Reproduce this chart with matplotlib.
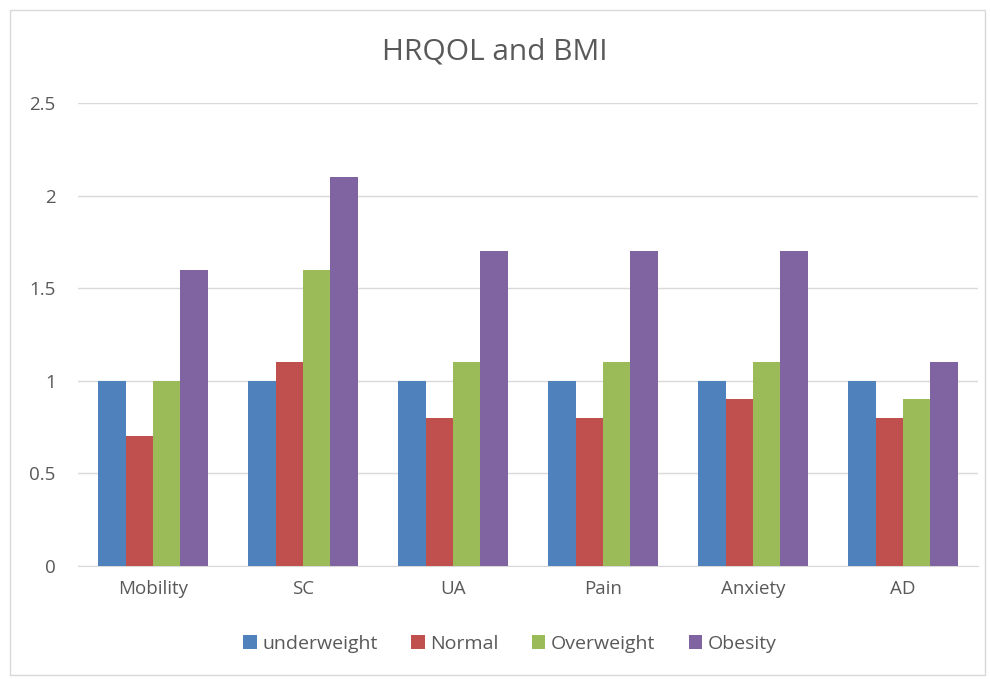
import matplotlib
matplotlib.use("Agg")
import matplotlib.pyplot as plt
import numpy as np
from matplotlib.patches import Rectangle

categories = ["Mobility", "SC", "UA", "Pain", "Anxiety", "AD"]
series_names = ["underweight", "Normal", "Overweight", "Obesity"]
underweight = [1.0, 1.0, 1.0, 1.0, 1.0, 1.0]
normal = [0.7, 1.1, 0.8, 0.8, 0.9, 0.8]
overweight = [1.0, 1.6, 1.1, 1.1, 1.1, 0.9]
obesity = [1.6, 2.1, 1.7, 1.7, 1.7, 1.1]
y_ticks = [0, 0.5, 1, 1.5, 2, 2.5]
y_tick_labels = ["0", "0.5", "1", "1.5", "2", "2.5"]

colors = ["#4F81BD", "#C0504D", "#9BBB59", "#8064A2"]
text_color = "#595959"
grid_color = "#D9D9D9"

plt.rcParams["font.family"] = ["Open Sans", "DejaVu Sans"]

fig = plt.figure(figsize=(9.9, 6.79), dpi=100)
fig.patches.append(Rectangle((10 / 990, 4 / 679), 975 / 990, 665 / 679,
                             transform=fig.transFigure, fill=False,
                             edgecolor=grid_color, linewidth=1))

ax = fig.add_axes([78 / 990, 1 - 566 / 679, 900 / 990, (566 - 103) / 679])

x = np.arange(len(categories))
width = 0.183
data = [underweight, normal, overweight, obesity]
for i, (vals, name, c) in enumerate(zip(data, series_names, colors)):
    ax.bar(x + (i - 1.5) * width, vals, width, color=c, label=name, zorder=3)

ax.set_xlim(-0.5, len(categories) - 0.5)
ax.set_ylim(0, 2.5)
ax.set_yticks(y_ticks)
ax.set_yticklabels(y_tick_labels)
ax.set_xticks(x)
ax.set_xticklabels(categories)
ax.yaxis.grid(True, color=grid_color, linewidth=1, zorder=0)
for s in ["top", "right", "left"]:
    ax.spines[s].set_visible(False)
ax.spines["bottom"].set_color(grid_color)
ax.tick_params(axis="both", length=0, labelsize=13.5, colors=text_color)
ax.tick_params(axis="y", pad=16)
ax.tick_params(axis="x", pad=10)

fig.text(0.5, 1 - 52 / 679, "HRQOL and BMI", ha="center", va="center",
         fontsize=21.5, color=text_color)

leg = fig.legend(loc="center", bbox_to_anchor=(510 / 990, 1 - 644 / 679), ncol=4,
                 frameon=False, fontsize=14, handlelength=0.7, handleheight=0.7,
                 handletextpad=0.3, columnspacing=1.7)
for t in leg.get_texts():
    t.set_color(text_color)

fig.savefig("out.png", dpi=100)
